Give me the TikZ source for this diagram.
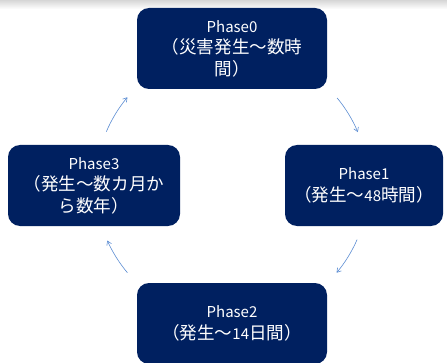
\documentclass[tikz,border=0pt]{standalone}
\usepackage{fontspec}
\setmainfont{Noto Sans CJK JP}
\newfontfamily\cjk[Scale=1.17]{Noto Sans CJK JP}
\usetikzlibrary{arrows.meta,calc}
\definecolor{navy}{RGB}{0,32,96}
\definecolor{arrowblue}{RGB}{91,140,210}
\begin{document}
\begin{tikzpicture}[x=1pt,y=1pt,
  phase/.style={fill=navy, rounded corners=12pt, text=white, align=center,
    minimum height=81pt, inner sep=0pt, font=\fontsize{15}{21.5}\selectfont},
  cyc/.style={draw=arrowblue, line width=0.6pt, -{Straight Barb[length=4pt,width=5pt]}}]
\useasboundingbox (0,0) rectangle (447,362);
\shade[top color=black!16, bottom color=white] (0,353) rectangle (447,362);
\node[phase, minimum width=190pt] (p0) at (232,313.5) {Phase0\\{\cjk （災害発生～数時}\\{\cjk 間）}};
\node[phase, minimum width=158pt] (p1) at (364,176.5) {Phase1\\{\cjk （発生～}48{\cjk 時間）}};
\node[phase, minimum width=190pt] (p2) at (232,38.5) {Phase2\\{\cjk （発生～}14{\cjk 日間）}};
\node[phase, minimum width=172pt] (p3) at (94,176.5) {Phase3\\{\cjk （発生～数カ月か}\\{\cjk ら数年）}};
\coordinate (c) at (232,177);
\coordinate (a30) at ($(c)+(157:136.5)$);
\coordinate (a01) at ($(c)+(39.6:136.5)$);
\coordinate (a12) at ($(c)+(-23.6:136.5)$);
\coordinate (a23) at ($(c)+(-140:136.5)$);
\draw[cyc] (a30) arc[start angle=157, end angle=140, radius=136.5];
\draw[cyc] (a01) arc[start angle=39.6, end angle=22.8, radius=136.5];
\draw[cyc] (a12) arc[start angle=-23.6, end angle=-40, radius=136.5];
\draw[cyc] (a23) arc[start angle=-140, end angle=-156, radius=136.5];
\end{tikzpicture}
\end{document}
